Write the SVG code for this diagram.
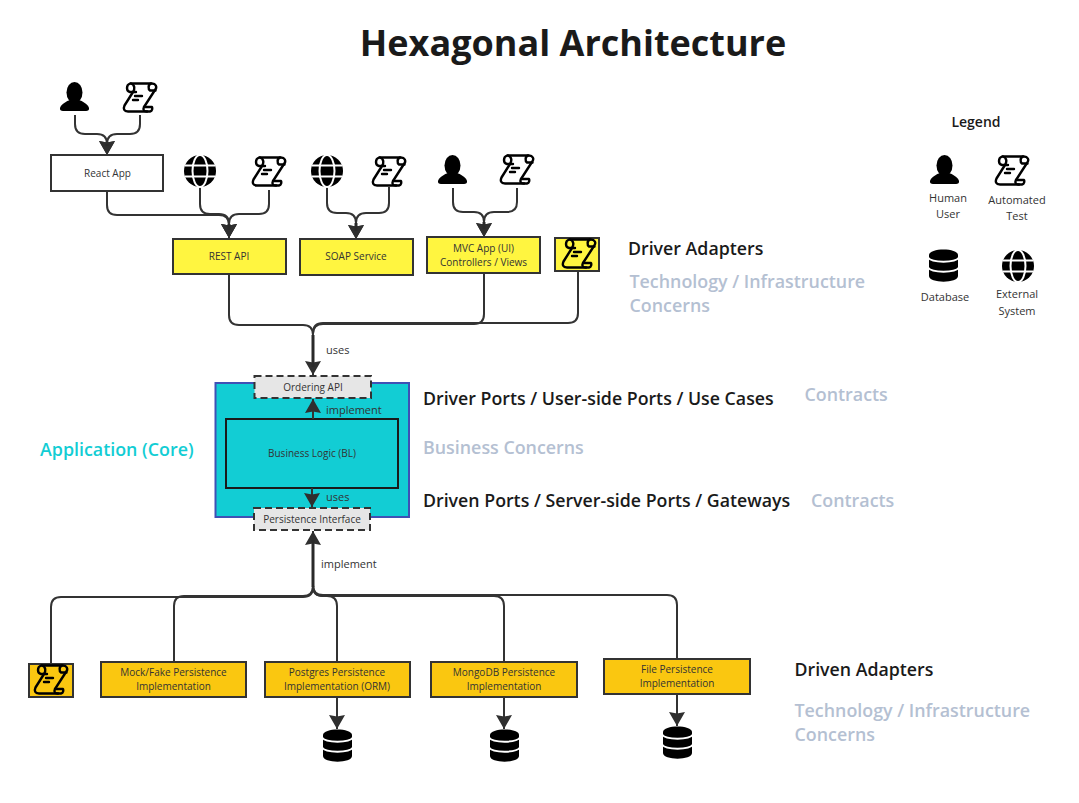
<svg xmlns="http://www.w3.org/2000/svg" width="1079" height="803" viewBox="0 0 1079 803">
<style>
text{font-family:"Open Sans","Noto Sans",sans-serif;fill:#1a1a1a}
.n{font-size:10px;text-anchor:middle;fill:#333}
.m{font-size:11px;fill:#333}
.h{font-size:17.750px;font-weight:600}
.g{font-size:17.850px;font-weight:600;fill:#b4c0d2}
.box{stroke:#333;stroke-width:2}
.y{fill:#fff540}
.o{fill:#fac710}
.d{fill:#e6e6e6;stroke:#333;stroke-width:2;stroke-dasharray:7 4}
.c{fill:none;stroke:#333;stroke-width:2}
.t{fill:none;stroke:#2a2a2a;stroke-width:3}
.a{marker-end:url(#ah)}
</style>
<defs>
<marker id="ah" viewBox="0 0 14 16" refX="14" refY="8" markerWidth="14" markerHeight="16" markerUnits="userSpaceOnUse" orient="auto"><path d="M0 0L14 8L0 16L1.500 8Z" fill="#2f2f2f"/></marker>
<g id="person"><ellipse cx="14.500" cy="10.500" rx="8" ry="10.500" fill="#000"/><path d="M0 26C1 22 7 19 10 18H19C22 19 28 22 29 26C29.500 28 28 29 26 29H3C1 29 -.5 28 0 26Z" fill="#000"/></g>
<g id="scroll" fill="none" stroke="#000" stroke-width="2.400" stroke-linecap="round" stroke-linejoin="round"><path d="M13 10H7C3 9 3 3 7 1.500H28C33 1 34.500 5 32 8L21 25C19.500 28 21 29.500 24 29.500"/><path d="M8 1.500C12 3 12 7 10 10L1.500 23.500C0 27 1 29.500 5 29.500H27C29.500 29 29.500 26 29 25H21"/><path d="M28 1.500C25 2.500 25 7 27 8.500H32.500"/><path d="M12 14H19M10 18H15"/></g>
<g id="globe"><circle cx="16" cy="16" r="16" fill="#000"/><g fill="none" stroke="#fff" stroke-width="2"><ellipse cx="16" cy="16" rx="7.500" ry="16"/><path d="M1 10.500H31M1 21.500H31"/></g></g>
<g id="db"><path d="M0 6C0 -1.500 29 -1.500 29 6V27C29 34.500 0 34.500 0 27Z" fill="#000"/><path d="M-1 8.500C3 14 26 14 30 8.500M-1 18.500C3 24 26 24 30 18.500" fill="none" stroke="#fff" stroke-width="2"/></g>
</defs>
<rect width="1079" height="803" fill="#fff"/>
<text x="573" y="56" text-anchor="middle" style="font-size:36px;font-weight:700">Hexagonal Architecture</text>

<g id="connectors">
<path class="c a" d="M75 115V124Q75 134 85 134H97Q107 134 107 144V155"/>
<path class="c a" d="M140 115V124Q140 134 130 134H117Q107 134 107 144V155"/>
<path class="c a" d="M107 191V205Q107 215 117 215H219Q229 215 229 225V238"/>
<path class="c a" d="M200 187V204Q200 214 210 214H219Q229 214 229 224V238"/>
<path class="c a" d="M269 190V204Q269 214 259 214H239Q229 214 229 224V238"/>
<path class="c a" d="M327 187V203Q327 213 337 213H346Q356 213 356 223V239"/>
<path class="c a" d="M389 187V203Q389 213 379 213H366Q356 213 356 223V239"/>
<path class="c a" d="M453 188V202Q453 212 463 212H474Q484 212 484 222V237"/>
<path class="c a" d="M517 188V202Q517 212 507 212H494Q484 212 484 222V237"/>
<path class="c a" d="M229 275V315Q229 325 239 325H303Q313 325 313 335V375"/>
<path class="c" d="M484 273V314Q484 324 474 324H323Q313 324 313 334"/>
<path class="c" d="M578 272V313Q578 323 568 323H323Q313 323 313 333"/>
<path class="c a" d="M51 663V607Q51 597 61 597H303Q313 597 313 587V531"/>
<path class="c" d="M174 661V606Q174 596 184 596H303Q313 596 313 586"/>
<path class="c" d="M337 661V606Q337 596 327 596H323Q313 596 313 586"/>
<path class="c" d="M504 661V606Q504 596 494 596H323Q313 596 313 586"/>
<path class="c" d="M677 658V605Q677 595 667 595H323Q313 595 313 585"/>
<path class="c a" d="M337 697V729"/>
<path class="c a" d="M504 697V729"/>
<path class="c a" d="M677 694V726"/>
<path class="t" d="M107 144V146M229 224V230M356 223V231M484 222V229M313 335V367M313 587V540"/>
</g>

<g id="user-react"><use href="#person" x="60" y="82"/></g>
<g id="test-react"><use href="#scroll" x="123" y="82"/></g>
<g id="react-app"><rect class="box" x="51" y="155" width="112" height="36" fill="#fff"/><text class="n" x="107.500" y="177">React App</text></g>
<g id="ext-rest"><use href="#globe" x="184" y="155"/></g>
<g id="test-rest"><use href="#scroll" x="252" y="156"/></g>
<g id="ext-soap"><use href="#globe" x="311" y="155"/></g>
<g id="test-soap"><use href="#scroll" x="372" y="156"/></g>
<g id="user-mvc"><use href="#person" x="438" y="155"/></g>
<g id="test-mvc"><use href="#scroll" x="500" y="154"/></g>
<g id="rest-api"><rect class="box y" x="173" y="239" width="113" height="35"/><text class="n" x="229" y="260">REST API</text></g>
<g id="soap-service"><rect class="box y" x="300" y="239" width="113" height="36"/><text class="n" x="356" y="260">SOAP Service</text></g>
<g id="mvc-app"><rect class="box y" x="427" y="237" width="113" height="36"/><text class="n" x="483.500" y="252">MVC App (UI)</text><text class="n" x="483.500" y="266">Controllers / Views</text></g>
<g id="test-driver"><rect class="box y" x="555" y="238" width="44" height="33"/><use href="#scroll" x="562" y="238"/></g>

<g id="core"><rect x="215.500" y="383" width="193.500" height="134" fill="#12cdd4" stroke="#3f51b5" stroke-width="2"/></g>
<g id="ordering-api"><rect class="d" x="254.500" y="376" width="116.500" height="22"/><text class="n" x="313" y="391">Ordering API</text></g>
<g id="business-logic"><rect x="226" y="419" width="172" height="69" fill="#12cdd4" stroke="#1a1a1a" stroke-width="2"/><text class="n" x="312" y="457">Business Logic (BL)</text></g>
<g id="persistence-interface"><rect class="d" x="254" y="508" width="116" height="22"/><text class="n" x="312" y="523">Persistence Interface</text></g>
<g id="connectors-core">
<path class="c a" d="M313 419V399"/>
<path class="c a" d="M312 488V507"/>
</g>
<text class="m" x="326" y="414">implement</text>
<text class="m" x="326" y="501">uses</text>
<text class="m" x="326" y="354">uses</text>
<text class="m" x="321" y="568">implement</text>

<g id="test-driven"><rect class="box o" x="29" y="664" width="44" height="33"/><use href="#scroll" x="34" y="664"/></g>
<g id="mock"><rect class="box o" x="101" y="662" width="145" height="35"/><text class="n" x="173.500" y="676">Mock/Fake Persistence</text><text class="n" x="173.500" y="690">Implementation</text></g>
<g id="postgres"><rect class="box o" x="265" y="662" width="145" height="35"/><text class="n" x="337" y="676">Postgres Persistence</text><text class="n" x="337" y="690">Implementation (ORM)</text></g>
<g id="mongodb"><rect class="box o" x="431" y="662" width="146" height="35"/><text class="n" x="504" y="676">MongoDB Persistence</text><text class="n" x="504" y="690">Implementation</text></g>
<g id="file"><rect class="box o" x="604" y="659" width="146" height="35"/><text class="n" x="677" y="673">File Persistence</text><text class="n" x="677" y="687">Implementation</text></g>
<g id="db-postgres"><use href="#db" x="323" y="729"/></g>
<g id="db-mongo"><use href="#db" x="490" y="729"/></g>
<g id="db-file"><use href="#db" x="663" y="726"/></g>

<g id="labels">
<text class="h" x="628" y="255">Driver Adapters</text>
<text class="g" x="629.500" y="288">Technology / Infrastructure</text>
<text class="g" x="629.500" y="312">Concerns</text>
<text class="h" x="423" y="405">Driver Ports / User-side Ports / Use Cases</text>
<text class="g" x="804.500" y="401">Contracts</text>
<text class="g" x="423" y="454">Business Concerns</text>
<text class="h" x="423" y="507">Driven Ports / Server-side Ports / Gateways</text>
<text class="g" x="811" y="507">Contracts</text>
<text x="40" y="456" style="font-size:17.850px;font-weight:600;fill:#12cdd4">Application (Core)</text>
<text class="h" x="794.500" y="676">Driven Adapters</text>
<text class="g" x="794.500" y="717">Technology / Infrastructure</text>
<text class="g" x="794.500" y="741">Concerns</text>
</g>

<g id="legend">
<text x="976" y="127" text-anchor="middle" style="font-size:14px;font-weight:600">Legend</text>
<use href="#person" x="930" y="155"/>
<text class="m" x="948" y="202" text-anchor="middle">Human</text>
<text class="m" x="948" y="218" text-anchor="middle">User</text>
<use href="#scroll" x="995" y="155"/>
<text class="m" x="1017" y="204" text-anchor="middle">Automated</text>
<text class="m" x="1017" y="220" text-anchor="middle">Test</text>
<use href="#db" x="929" y="249"/>
<text class="m" x="945" y="301" text-anchor="middle">Database</text>
<use href="#globe" x="1002" y="250"/>
<text class="m" x="1017" y="298" text-anchor="middle">External</text>
<text class="m" x="1017" y="315" text-anchor="middle">System</text>
</g>
</svg>
